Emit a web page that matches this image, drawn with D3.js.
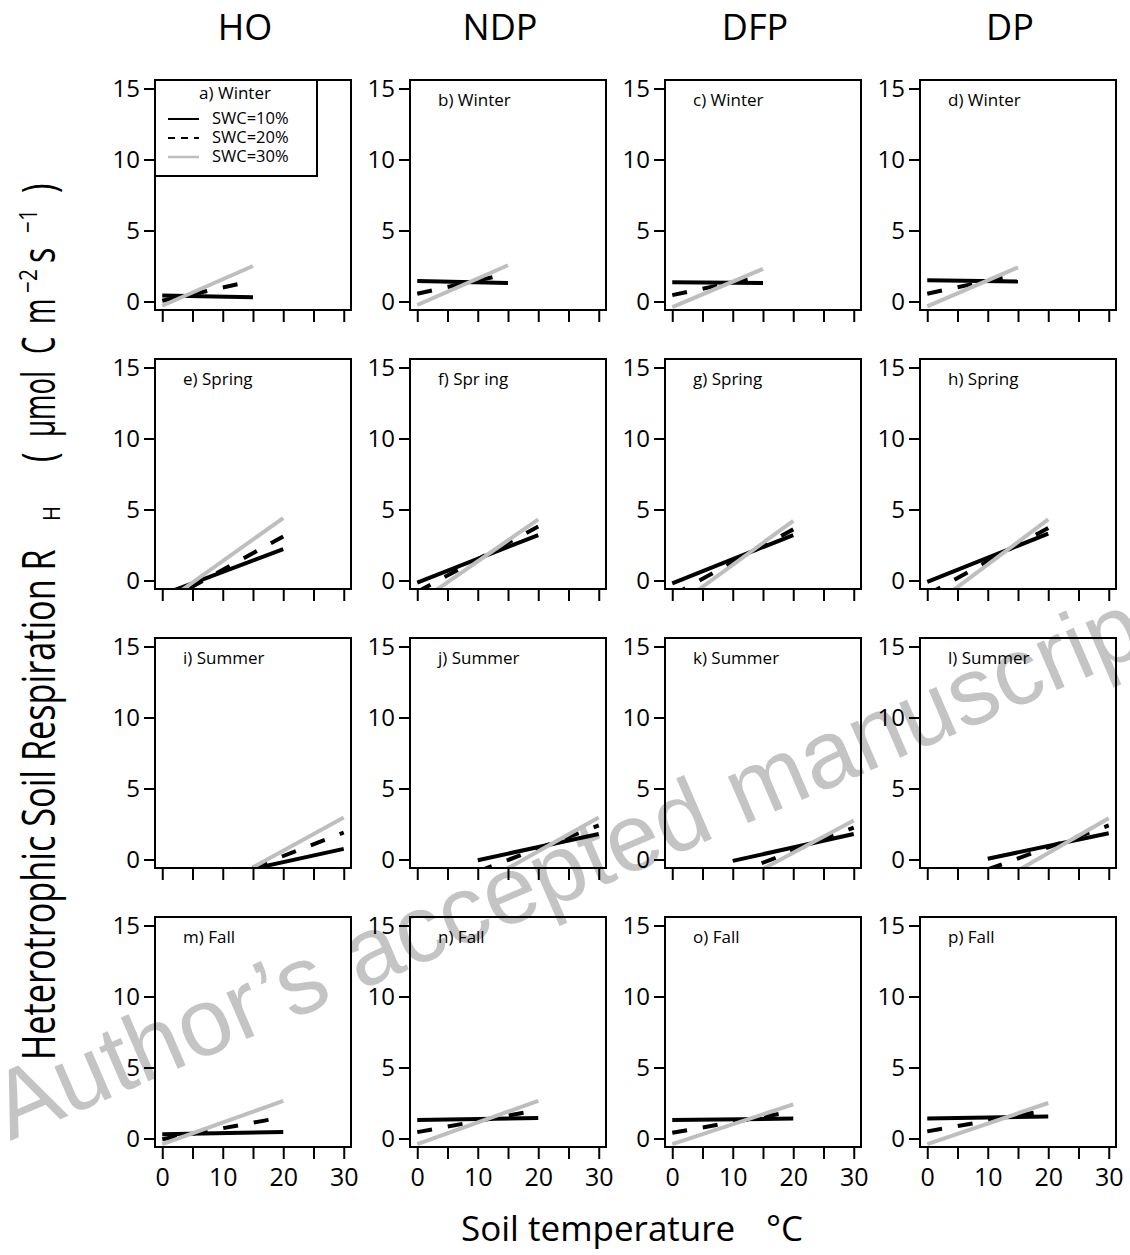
<!DOCTYPE html>
<html>
<head>
<meta charset="utf-8">
<script src="https://cdn.jsdelivr.net/npm/d3@7"></script>
<style>
  body { margin: 0; background: #fff; }
  svg { display: block; font-family: "Open Sans", "Noto Sans", sans-serif; }
</style>
</head>
<body>
<svg id="chart" width="1130" height="1255"></svg>
<script>
// Treatments (columns) and seasons (rows).
var treatments = ["HO", "NDP", "DFP", "DP"];
var seasons = ["Winter", "Spring", "Summer", "Fall"];
var panelLabels = [
  "a) Winter", "b) Winter", "c) Winter", "d) Winter",
  "e) Spring", "f) Spr ing", "g) Spring", "h) Spring",
  "i) Summer", "j) Summer", "k) Summer", "l) Summer",
  "m) Fall", "n) Fall", "o) Fall", "p) Fall"
];
var swcLabels = ["SWC=10%", "SWC=20%", "SWC=30%"];

// Temperature range of each fitted line, per season and treatment.
var winterTemp = [[0, 15], [0, 15], [0, 15], [0, 15]];
var springTemp = [[0, 20], [0, 20], [0, 20], [0, 20]];
var summerTemp = [[15, 30], [10, 30], [10, 30], [10, 30]];
var fallTemp   = [[0, 20], [0, 20], [0, 20], [0, 20]];

// RH at start / end of the temperature range, for each treatment.
var winterSwc10 = [[0.42, 0.3], [1.45, 1.3], [1.35, 1.3], [1.5, 1.4]];
var winterSwc20 = [[0.05, 1.45], [0.55, 1.95], [0.45, 1.8], [0.55, 1.9]];
var winterSwc30 = [[-0.3, 2.5], [-0.25, 2.55], [-0.4, 2.3], [-0.35, 2.4]];

var springSwc10 = [[-1.0, 2.2], [-0.15, 3.2], [-0.2, 3.2], [-0.1, 3.3]];
var springSwc20 = [[-1.6, 3.1], [-0.8, 3.8], [-1.05, 3.6], [-1.0, 3.7]];
var springSwc30 = [[-1.66, 4.4], [-1.6, 4.3], [-2.0, 4.2], [-2.05, 4.3]];

var summerSwc10 = [[-0.65, 0.75], [-0.05, 1.8], [-0.1, 1.8], [0.05, 1.85]];
var summerSwc20 = [[-0.58, 1.9], [-0.85, 2.4], [-1.05, 2.25], [-0.7, 2.4]];
var summerSwc30 = [[-0.55, 2.95], [-1.8, 2.95], [-1.8, 2.75], [-2.0, 2.9]];

var fallSwc10 = [[0.3, 0.45], [1.3, 1.45], [1.3, 1.4], [1.4, 1.55]];
var fallSwc20 = [[-0.05, 1.5], [0.45, 2.0], [0.4, 1.9], [0.5, 2.0]];
var fallSwc30 = [[-0.4, 2.65], [-0.4, 2.65], [-0.4, 2.4], [-0.4, 2.5]];

// Axis ticks.
var xTicks = [0, 5, 10, 15, 20, 25, 30];
var xLabelTicks = [0, 10, 20, 30];
var yTicks = [0, 5, 10, 15];

var seasonTemp = [winterTemp, springTemp, summerTemp, fallTemp];
var seasonLines = [
  [winterSwc10, winterSwc20, winterSwc30],
  [springSwc10, springSwc20, springSwc30],
  [summerSwc10, summerSwc20, summerSwc30],
  [fallSwc10, fallSwc20, fallSwc30]
];

// Layout.
var kColLeft = [155, 410, 665, 920];
var kRowTop = [80, 359, 638, 917];
var kBoxW = 196;
var kBoxH = 230;

// Line styles for SWC=10, 20, 30 %.
var lineColor = ["#000", "#000", "#bebebe"];
var lineDash = [null, "15,16", null];
var kLineWidth = 4;

var svg = d3.select("#chart");

// Watermark (under the panels).
svg.append("text")
  .attr("transform", "translate(10,1141) rotate(-23.3)")
  .style("font-family", "'Liberation Sans', Arial, sans-serif")
  .style("font-size", "96px")
  .style("fill", "#c4c4c4")
  .text("Author\u2019s accepted manuscript");

seasons.forEach(function(season, row) {
  treatments.forEach(function(treatment, col) {
    var idx = row * 4 + col;
    var left = kColLeft[col];
    var top = kRowTop[row];

    var x = d3.scaleLinear().domain([-1.2, 31.2]).range([left, left + kBoxW]);
    var y = d3.scaleLinear().domain([-0.6, 15.6]).range([top + kBoxH, top]);

    var g = svg.append("g");

    // Clip lines to the plot region.
    var clipId = "clip" + idx;
    g.append("clipPath").attr("id", clipId)
      .append("rect")
      .attr("x", left).attr("y", top)
      .attr("width", kBoxW).attr("height", kBoxH);

    // Fitted lines.
    var range = seasonTemp[row][col];
    var lines = seasonLines[row].map(function(series, i) {
      var v = series[col];
      return { swc: i, pts: [[range[0], v[0]], [range[1], v[1]]] };
    });
    var line = d3.line()
      .x(function(d) { return x(d[0]); })
      .y(function(d) { return y(d[1]); });
    g.append("g").attr("clip-path", "url(#" + clipId + ")")
      .selectAll("path")
      .data(lines)
      .join("path")
      .attr("d", function(d) { return line(d.pts); })
      .attr("fill", "none")
      .attr("stroke", function(d) { return lineColor[d.swc]; })
      .attr("stroke-width", kLineWidth)
      .attr("stroke-dasharray", function(d) { return lineDash[d.swc]; });

    // Box.
    g.append("rect")
      .attr("x", left).attr("y", top)
      .attr("width", kBoxW).attr("height", kBoxH)
      .attr("fill", "none").attr("stroke", "#000").attr("stroke-width", 2);

    // Y axis.
    var yAxis = g.append("g")
      .attr("transform", "translate(" + (left - 1) + ",0)")
      .call(d3.axisLeft(y).tickValues(yTicks).tickSize(10).tickPadding(4));
    // X axis.
    var bottomRow = row == seasons.length - 1;
    var xAxis = g.append("g")
      .attr("transform", "translate(0," + (top + kBoxH + 1) + ")")
      .call(d3.axisBottom(x).tickValues(xTicks).tickSize(11).tickPadding(9)
        .tickFormat(function(d) {
          return bottomRow && xLabelTicks.indexOf(d) >= 0 ? d : "";
        }));
    [xAxis, yAxis].forEach(function(a) {
      a.select(".domain").remove();
      a.selectAll(".tick line").attr("stroke-width", 2);
      a.selectAll("text")
        .style("font-family", "'Open Sans', sans-serif")
        .style("font-size", "24px")
        .attr("fill", "#000");
    });
    xAxis.selectAll("text").style("font-size", "25px");

    var label = panelLabels[idx];
    if (idx == 0)
    {
      // Legend box in the first panel, with the panel label as its title.
      var leg = g.append("g");
      leg.append("rect")
        .attr("x", left).attr("y", top)
        .attr("width", 162).attr("height", 96)
        .attr("fill", "#fff").attr("stroke", "#000").attr("stroke-width", 2);
      leg.append("text")
        .attr("x", left + 80).attr("y", top + 19)
        .attr("text-anchor", "middle")
        .style("font-size", "17px")
        .text(label);
      swcLabels.forEach(function(s, i) {
        var ly = top + 39 + i * 19;
        leg.append("line")
          .attr("x1", left + 13).attr("x2", left + 44)
          .attr("y1", ly).attr("y2", ly)
          .attr("stroke", lineColor[i])
          .attr("stroke-width", i == 2 ? 2.5 : 2)
          .attr("stroke-dasharray", i == 1 ? "7,6" : null);
        leg.append("text")
          .attr("x", left + 57).attr("y", ly + 5)
          .style("font-size", "16.5px")
          .text(s);
      });
    }
    else
    {
      g.append("text")
        .attr("x", left + 28).attr("y", top + 26)
        .style("font-size", "17px")
        .text(label);
    }

    // Column heading.
    if (row == 0)
    {
      svg.append("text")
        .attr("x", left + 90).attr("y", 40)
        .attr("text-anchor", "middle")
        .style("font-size", "36px")
        .text(treatment);
    }
  });
});

// X axis title.
svg.append("text")
  .attr("x", 461).attr("y", 1241)
  .style("font-size", "35px")
  .text("Soil temperature");
svg.append("text")
  .attr("x", 766).attr("y", 1241)
  .style("font-size", "35px")
  .text("\u00B0C");

// Y axis title, built from pieces placed along the rotated axis.
var yTitleParts = [
  { text: "Heterotrophic Soil Respiration R", at: 1060, base: 55, size: 46, sx: 0.745 },
  { text: "H", at: 521, base: 60, size: 24, sx: 0.85 },
  { text: "(", at: 462, base: 55, size: 46, sx: 0.7 },
  { text: "\u00B5mol", at: 437, base: 55, size: 46, sx: 0.6 },
  { text: "C", at: 354, base: 55, size: 46, sx: 0.6 },
  { text: "m", at: 324, base: 55, size: 46, sx: 0.6 },
  { text: "\u22122", at: 293, base: 37, size: 26, sx: 0.8 },
  { text: "s", at: 263, base: 55, size: 46, sx: 0.7 },
  { text: "\u22121", at: 233, base: 37, size: 26, sx: 0.8 },
  { text: ")", at: 193, base: 55, size: 46, sx: 0.7 }
];
svg.append("g").selectAll("text")
  .data(yTitleParts)
  .join("text")
  .attr("transform", function(d) {
    return "translate(" + d.base + "," + d.at + ") rotate(-90) scale(" + d.sx + ",1)";
  })
  .style("font-size", function(d) { return d.size + "px"; })
  .text(function(d) { return d.text; });
</script>
</body>
</html>
